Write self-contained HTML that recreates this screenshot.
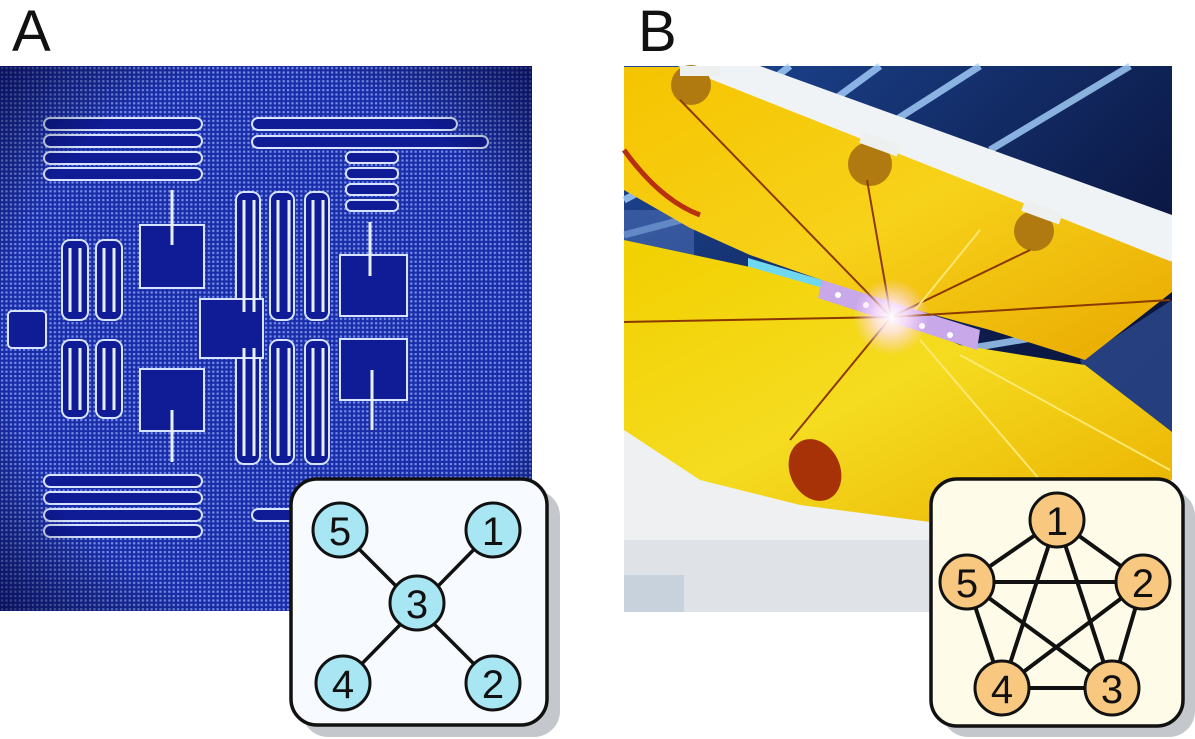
<!DOCTYPE html>
<html><head><meta charset="utf-8"><style>
html,body{margin:0;padding:0;background:#fff;width:1195px;height:739px;overflow:hidden}
svg{display:block}
text{font-family:"Liberation Sans",sans-serif}
</style></head><body>
<svg width="1195" height="739" viewBox="0 0 1195 739" xmlns="http://www.w3.org/2000/svg">
<defs>
<pattern id="dots" width="4.4" height="4.4" patternUnits="userSpaceOnUse">
<rect width="4.4" height="4.4" fill="#1a2ca8"/>
<rect x="1" y="1" width="2.2" height="2.2" fill="#7490ea"/>
</pattern>
<radialGradient id="vig" cx="50%" cy="50%" r="70%">
<stop offset="70%" stop-color="#000" stop-opacity="0"/>
<stop offset="100%" stop-color="#000030" stop-opacity="0.6"/>
</radialGradient>
<radialGradient id="glow" cx="50%" cy="50%" r="50%">
<stop offset="0%" stop-color="#fff" stop-opacity="1"/>
<stop offset="40%" stop-color="#ffe8ff" stop-opacity="0.8"/>
<stop offset="100%" stop-color="#ffd0ff" stop-opacity="0"/>
</radialGradient>
<linearGradient id="gold1" x1="0" y1="0" x2="1" y2="1">
<stop offset="0" stop-color="#f5c400"/><stop offset="0.5" stop-color="#f7d21a"/><stop offset="1" stop-color="#e9a800"/>
</linearGradient>
<linearGradient id="gold2" x1="0" y1="0" x2="1" y2="1">
<stop offset="0" stop-color="#f2d000"/><stop offset="0.5" stop-color="#f5dc20"/><stop offset="1" stop-color="#eab000"/>
</linearGradient>
<linearGradient id="sky" x1="0" y1="0" x2="1" y2="1">
<stop offset="0" stop-color="#1e4a9a"/><stop offset="0.6" stop-color="#0c1a48"/><stop offset="1" stop-color="#050a20"/>
</linearGradient>
</defs>

<text x="12" y="51" font-size="58" fill="#111">A</text>
<text x="638" y="51" font-size="58" fill="#111">B</text>

<!-- Chip A -->
<rect x="0" y="66" width="532" height="545" fill="url(#dots)"/>
<g fill="#0f1c96" stroke="#d8e4ff" stroke-width="2">
<rect x="44" y="118" width="158" height="12" rx="6"/>
<rect x="44" y="135" width="158" height="12" rx="6"/>
<rect x="44" y="152" width="158" height="12" rx="6"/>
<rect x="44" y="168" width="158" height="12" rx="6"/>
<rect x="252" y="118" width="205" height="12" rx="6"/>
<rect x="252" y="136" width="236" height="12" rx="6"/>
<rect x="346" y="152" width="52" height="11" rx="5"/>
<rect x="346" y="168" width="52" height="11" rx="5"/>
<rect x="346" y="184" width="52" height="11" rx="5"/>
<rect x="346" y="200" width="52" height="11" rx="5"/>
<rect x="44" y="475" width="158" height="12" rx="6"/>
<rect x="44" y="492" width="158" height="12" rx="6"/>
<rect x="44" y="509" width="158" height="12" rx="6"/>
<rect x="44" y="525" width="158" height="12" rx="6"/>
<rect x="252" y="509" width="60" height="12" rx="6"/>
<rect x="236" y="192" width="24" height="128" rx="8"/>
<rect x="270" y="192" width="24" height="128" rx="8"/>
<rect x="305" y="192" width="24" height="128" rx="8"/>
<rect x="236" y="340" width="24" height="124" rx="8"/>
<rect x="270" y="340" width="24" height="124" rx="8"/>
<rect x="305" y="340" width="24" height="124" rx="8"/>
<rect x="62" y="240" width="26" height="80" rx="8"/>
<rect x="96" y="240" width="26" height="80" rx="8"/>
<rect x="62" y="340" width="26" height="78" rx="8"/>
<rect x="96" y="340" width="26" height="78" rx="8"/>
<rect x="8" y="311" width="38" height="37" rx="4"/>
<rect x="140" y="225" width="64" height="63"/>
<rect x="140" y="369" width="64" height="62"/>
<rect x="340" y="255" width="67" height="61"/>
<rect x="340" y="339" width="67" height="61"/>
<rect x="200" y="299" width="63" height="59"/>
</g>
<g stroke="#e8f0ff" stroke-width="3" fill="none">
<line x1="172" y1="190" x2="172" y2="245"/><line x1="172" y1="410" x2="172" y2="462"/>
<line x1="370" y1="222" x2="370" y2="276"/><line x1="372" y1="370" x2="372" y2="430"/>
<line x1="244" y1="200" x2="244" y2="312"/><line x1="254" y1="200" x2="254" y2="312"/>
<line x1="278" y1="200" x2="278" y2="312"/><line x1="289" y1="200" x2="289" y2="312"/>
<line x1="313" y1="200" x2="313" y2="312"/><line x1="323" y1="200" x2="323" y2="312"/>
<line x1="244" y1="348" x2="244" y2="456"/><line x1="254" y1="348" x2="254" y2="456"/>
<line x1="278" y1="348" x2="278" y2="456"/><line x1="289" y1="348" x2="289" y2="456"/>
<line x1="313" y1="348" x2="313" y2="456"/><line x1="323" y1="348" x2="323" y2="456"/>
<line x1="70" y1="248" x2="70" y2="312"/><line x1="80" y1="248" x2="80" y2="312"/>
<line x1="104" y1="248" x2="104" y2="312"/><line x1="114" y1="248" x2="114" y2="312"/>
<line x1="70" y1="348" x2="70" y2="410"/><line x1="80" y1="348" x2="80" y2="410"/>
<line x1="104" y1="348" x2="104" y2="410"/><line x1="114" y1="348" x2="114" y2="410"/>
</g>
<rect x="0" y="66" width="532" height="545" fill="url(#vig)"/>

<!-- Photo B -->
<rect x="624" y="66" width="548" height="546" fill="url(#sky)"/>
<g stroke="#a8d4ff" stroke-width="7" opacity="0.8">
<line x1="790" y1="66" x2="740" y2="105"/><line x1="880" y1="66" x2="820" y2="110"/>
<line x1="980" y1="66" x2="880" y2="130"/><line x1="1130" y1="66" x2="990" y2="150"/>
<line x1="624" y1="200" x2="700" y2="160"/><line x1="624" y1="235" x2="700" y2="215"/>
<line x1="960" y1="350" x2="1080" y2="330"/>
</g>
<rect x="624" y="210" width="70" height="50" fill="#4a6ab0" opacity="0.6"/>
<polygon points="1080,360 1172,300 1172,440 1100,420" fill="#2d4a90" opacity="0.8"/>
<polygon points="727,66 760,66 1172,215 1172,262 663,74 680,66" fill="#f0f3f5"/>
<polygon points="624,420 700,470 800,500 930,520 1172,470 1172,612 624,612" fill="#eef0f2"/>
<rect x="624" y="540" width="548" height="72" fill="#dfe3e8"/>
<rect x="624" y="575" width="60" height="37" fill="#c8d2dc"/>
<polygon points="624,67 680,67 1172,262 1172,292 1085,360 990,330 890,303 830,283 750,255 690,228 624,190" fill="url(#gold1)"/>
<path d="M624,150 Q660,200 700,215" stroke="#b83010" stroke-width="5" fill="none"/>
<polygon points="748,258 822,280 820,292 748,270" fill="#6fd8f0"/>
<path d="M624,240 L750,267 L830,290 L960,345 L1085,365 L1172,432 L1172,480 L1070,515 L930,522 L800,505 L700,480 L624,430 Z" fill="url(#gold2)"/>
<polygon points="822,280 980,330 977,350 818,298" fill="#c8a8e8"/>
<g fill="#fff"><circle cx="838" cy="295" r="3"/><circle cx="866" cy="305" r="3"/><circle cx="922" cy="326" r="3"/><circle cx="950" cy="335" r="3"/></g>
<g fill="#b07a10"><circle cx="691" cy="85" r="20"/><circle cx="870" cy="164" r="22"/><circle cx="1034" cy="231" r="20"/></g>
<g fill="#eef0f0"><rect x="680" y="66" width="40" height="10"/><rect x="860" y="138" width="40" height="12" transform="rotate(20 880 144)"/><rect x="1022" y="206" width="40" height="12" transform="rotate(20 1042 212)"/></g>
<g stroke="#8a3a00" stroke-width="2" fill="none">
<line x1="891" y1="317" x2="680" y2="100"/><line x1="891" y1="317" x2="867" y2="180"/>
<line x1="891" y1="317" x2="1030" y2="250"/><line x1="891" y1="317" x2="1170" y2="300"/>
<line x1="891" y1="317" x2="624" y2="322"/><line x1="891" y1="317" x2="790" y2="440"/>
</g>
<g stroke="#ffe870" stroke-width="2"><line x1="920" y1="340" x2="1040" y2="480"/><line x1="960" y1="355" x2="1170" y2="470"/><line x1="915" y1="310" x2="980" y2="230"/></g>
<ellipse cx="815" cy="470" rx="25" ry="32" fill="#a83208" transform="rotate(-25 815 470)"/>
<circle cx="891" cy="317" r="38" fill="url(#glow)"/>

<!-- Inset A -->
<rect x="302" y="490" width="258" height="247" rx="26" fill="#c4c8cc"/>
<rect x="291" y="479" width="256" height="246" rx="26" fill="#f7fbff" stroke="#111" stroke-width="3.5"/>
<g stroke="#111" stroke-width="3.5">
<line x1="340" y1="530" x2="493" y2="683"/><line x1="493" y1="530" x2="343" y2="683"/>
</g>
<g fill="#a8e6f4" stroke="#111" stroke-width="3">
<circle cx="340" cy="530" r="27"/><circle cx="493" cy="530" r="27"/><circle cx="417" cy="603" r="27"/><circle cx="343" cy="683" r="27"/><circle cx="493" cy="683" r="27"/>
</g>
<g font-size="40" text-anchor="middle" fill="#111">
<text x="340" y="545">5</text><text x="493" y="545">1</text><text x="417" y="618">3</text><text x="343" y="698">4</text><text x="493" y="698">2</text>
</g>

<!-- Inset B -->
<rect x="942" y="490" width="253" height="247" rx="26" fill="#c4c8cc"/>
<rect x="931" y="479" width="252" height="247" rx="26" fill="#fefce8" stroke="#111" stroke-width="3.5"/>
<g stroke="#111" stroke-width="4">
<line x1="1057" y1="520" x2="967" y2="582"/><line x1="1057" y1="520" x2="1143" y2="582"/>
<line x1="1057" y1="520" x2="1002" y2="688"/><line x1="1057" y1="520" x2="1112" y2="688"/>
<line x1="967" y1="582" x2="1143" y2="582"/><line x1="967" y1="582" x2="1002" y2="688"/><line x1="967" y1="582" x2="1112" y2="688"/>
<line x1="1143" y1="582" x2="1002" y2="688"/><line x1="1143" y1="582" x2="1112" y2="688"/>
<line x1="1002" y1="688" x2="1112" y2="688"/>
</g>
<g fill="#f8c880" stroke="#111" stroke-width="3">
<circle cx="1057" cy="520" r="27"/><circle cx="967" cy="582" r="27"/><circle cx="1143" cy="582" r="27"/><circle cx="1002" cy="688" r="27"/><circle cx="1112" cy="688" r="27"/>
</g>
<g font-size="40" text-anchor="middle" fill="#111">
<text x="1057" y="535">1</text><text x="967" y="597">5</text><text x="1143" y="597">2</text><text x="1002" y="703">4</text><text x="1112" y="703">3</text>
</g>
</svg>
</body></html>
